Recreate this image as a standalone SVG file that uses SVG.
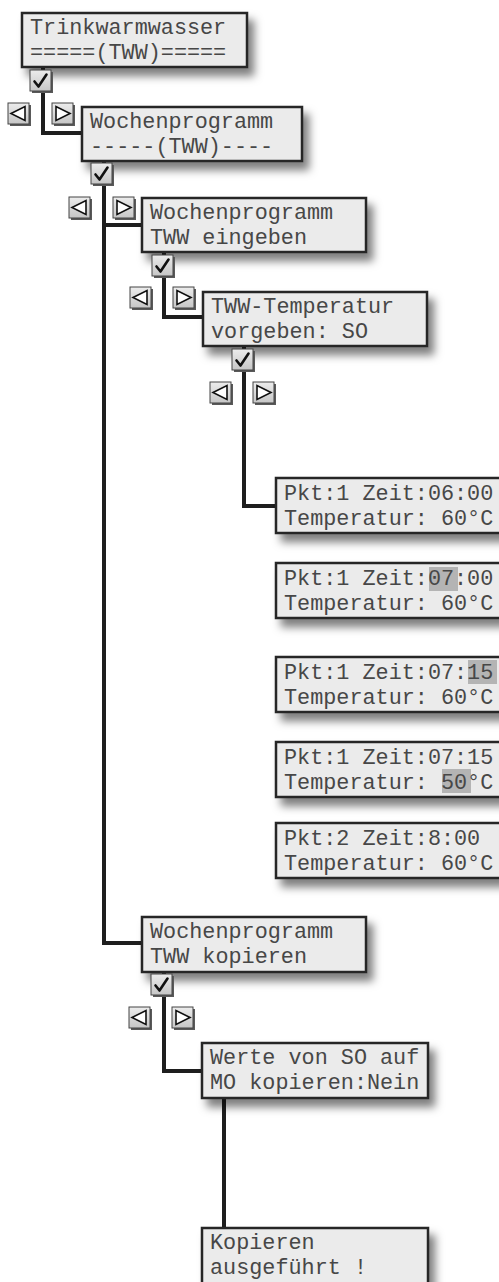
<svg xmlns="http://www.w3.org/2000/svg" width="499" height="1282" viewBox="0 0 499 1282">
<style>
.box{fill:#ebebeb;stroke:#262626;stroke-width:2.5}
.t{font-family:"Liberation Mono","Courier New",monospace;font-size:21.8px;fill:#474747}
.con{fill:none;stroke:#1e1e1e;stroke-width:4;stroke-linejoin:miter;stroke-linecap:butt}
.btn{fill:url(#g);stroke:#444;stroke-width:1}
.bsh{fill:#5a5a5a}
.ck{fill:none;stroke:#111;stroke-width:2.6;stroke-linejoin:round;stroke-linecap:round}
.tri{fill:#fff;stroke:#111;stroke-width:1.6;stroke-linejoin:miter}
.hl{fill:#b4b4b4}
</style>
<defs>
<linearGradient id="g" x1="0" y1="0" x2="0" y2="1"><stop offset="0" stop-color="#ececec"/><stop offset="1" stop-color="#c6c6c6"/></linearGradient>
<filter id="sh" x="-10%" y="-20%" width="130%" height="160%"><feDropShadow dx="6" dy="8" stdDeviation="4" flood-color="#000" flood-opacity="0.5"/></filter>
<g id="chk"><rect class="bsh" x="2" y="2" width="21" height="21"/><rect class="btn" x="0" y="0" width="21" height="21"/><path class="ck" d="M4.5,11.5 L8.5,16.5 L16.5,4.5"/></g>
<g id="lft"><rect class="bsh" x="2" y="2" width="21" height="21"/><rect class="btn" x="0" y="0" width="21" height="21"/><polygon class="tri" points="3,10.5 17,3.5 17,17.5"/></g>
<g id="rgt"><rect class="bsh" x="2" y="2" width="21" height="21"/><rect class="btn" x="0" y="0" width="21" height="21"/><polygon class="tri" points="18,10.5 4,3.5 4,17.5"/></g>
</defs>

<g id="connectors">
<path class="con" d="M43,67 V133 H82"/>
<path class="con" d="M104,160 V943 H142 M104,225 H142"/>
<path class="con" d="M164,252 V317 H203"/>
<path class="con" d="M244,346 V506 H276"/>
<path class="con" d="M164,972 V1071 H202"/>
<path class="con" d="M224,1098 V1228"/>
</g>

<g id="n1"><rect class="box" x="22" y="13" width="225" height="54" filter="url(#sh)"/><text class="t" x="30" y="34">Trinkwarmwasser</text><text class="t" x="30" y="59">=====(TWW)=====</text></g>
<g id="n2"><rect class="box" x="82" y="107" width="220" height="54" filter="url(#sh)"/><text class="t" x="90" y="128">Wochenprogramm</text><text class="t" x="90" y="153">-----(TWW)----</text></g>
<g id="n3"><rect class="box" x="142" y="198" width="224" height="54" filter="url(#sh)"/><text class="t" x="150" y="219">Wochenprogramm</text><text class="t" x="150" y="244">TWW eingeben</text></g>
<g id="n4"><rect class="box" x="203" y="292" width="224" height="54" filter="url(#sh)"/><text class="t" x="211" y="313">TWW-Temperatur</text><text class="t" x="211" y="338">vorgeben: SO</text></g>
<g id="n5"><rect class="box" x="276" y="478" width="226" height="55" filter="url(#sh)"/><text class="t" x="284" y="500">Pkt:1 Zeit:06:00</text><text class="t" x="284" y="525">Temperatur: 60°C</text></g>
<g id="n6"><rect class="box" x="276" y="563" width="226" height="55" filter="url(#sh)"/><rect class="hl" x="429" y="567" width="29" height="24"/><text class="t" x="284" y="585">Pkt:1 Zeit:07:00</text><text class="t" x="284" y="610">Temperatur: 60°C</text></g>
<g id="n7"><rect class="box" x="276" y="657" width="226" height="55" filter="url(#sh)"/><rect class="hl" x="468" y="660" width="29" height="24"/><text class="t" x="284" y="679">Pkt:1 Zeit:07:15</text><text class="t" x="284" y="704">Temperatur: 60°C</text></g>
<g id="n8"><rect class="box" x="276" y="742" width="226" height="55" filter="url(#sh)"/><rect class="hl" x="442" y="769" width="29" height="24"/><text class="t" x="284" y="764">Pkt:1 Zeit:07:15</text><text class="t" x="284" y="789">Temperatur: 50°C</text></g>
<g id="n9"><rect class="box" x="276" y="823" width="226" height="55" filter="url(#sh)"/><text class="t" x="284" y="845">Pkt:2 Zeit:8:00</text><text class="t" x="284" y="870">Temperatur: 60°C</text></g>
<g id="n10"><rect class="box" x="142" y="917" width="224" height="55" filter="url(#sh)"/><text class="t" x="150" y="938">Wochenprogramm</text><text class="t" x="150" y="963">TWW kopieren</text></g>
<g id="n11"><rect class="box" x="202" y="1043" width="226" height="55" filter="url(#sh)"/><text class="t" x="210" y="1064">Werte von SO auf</text><text class="t" x="210" y="1089">MO kopieren:Nein</text></g>
<g id="n12"><rect class="box" x="202" y="1228" width="226" height="60" filter="url(#sh)"/><text class="t" x="210" y="1249">Kopieren</text><text class="t" x="210" y="1274">ausgeführt !</text></g>

<g id="buttons">
<use href="#chk" x="30" y="70"/>
<use href="#lft" x="8" y="103"/><use href="#rgt" x="52" y="103"/>
<use href="#chk" x="91" y="163"/>
<use href="#lft" x="69" y="197"/><use href="#rgt" x="113" y="197"/>
<use href="#chk" x="152" y="255"/>
<use href="#lft" x="130" y="287"/><use href="#rgt" x="173" y="287"/>
<use href="#chk" x="232" y="349"/>
<use href="#lft" x="210" y="382"/><use href="#rgt" x="253" y="382"/>
<use href="#chk" x="151" y="974"/>
<use href="#lft" x="129" y="1007"/><use href="#rgt" x="172" y="1007"/>
</g>
</svg>
